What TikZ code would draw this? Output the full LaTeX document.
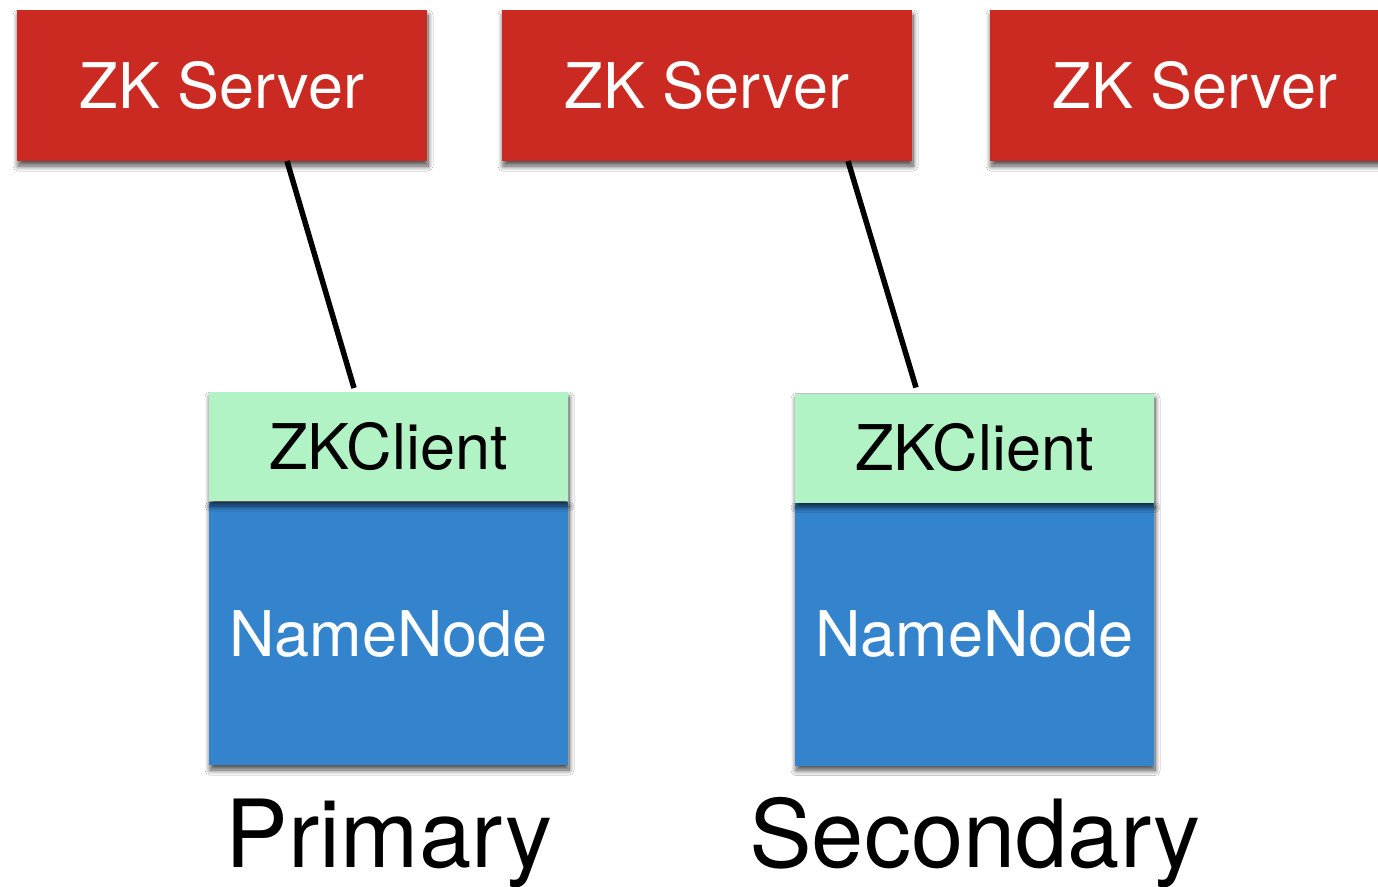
\documentclass[tikz,border=0pt]{standalone}
\usepackage{fontspec}
\setmainfont{TeX Gyre Heros}
\usetikzlibrary{shadows.blur}
\definecolor{zkred}{HTML}{CB2A23}
\definecolor{zkgreen}{HTML}{B1F3C5}
\definecolor{nnblue}{HTML}{3483CD}
\tikzset{
  sh/.style={blur shadow={shadow xshift=1pt,shadow yshift=-5pt,shadow opacity=70,shadow blur radius=5pt,shadow blur steps=12}},
  boxbase/.style={inner sep=0pt,outer sep=0pt,text height=45pt,text depth=0pt,font=\fontsize{63}{70}\selectfont},
  server/.style={boxbase,sh,fill=zkred,text=white,minimum width=410pt,minimum height=151pt},
  client/.style={boxbase,sh,fill=zkgreen,text=black,minimum width=359pt,minimum height=109pt},
  namenode/.style={boxbase,sh,fill=nnblue,text=white,minimum width=359pt,minimum height=263pt},
  role/.style={inner sep=0pt,anchor=base,font=\fontsize{94}{100}\selectfont},
  conn/.style={draw=black,line width=5.5pt}
}
\begin{document}
\begin{tikzpicture}[x=1pt,y=-1pt]
\useasboundingbox (0,0) rectangle (1378,886);
\fill[white] (0,0) rectangle (1378,886);
% servers
\node[server] (zk1) at (222,85.5) {ZK Server};
\node[server] (zk2) at (707,85.5) {ZK Server};
\node[server] (zk3) at (1195,85.5) {ZK Server};
% primary stack
\node[namenode] (nn1) at (388.5,633.5) {NameNode};
\node[client] (zc1) at (388.5,446.5) {ZKClient};
% secondary stack
\node[namenode] (nn2) at (974.5,634) {NameNode};
\node[client] (zc2) at (974.5,448) {ZKClient};
% labels
\node[role] (p) at (389,867) {Primary};
\node[role] (s) at (975,867) {Secondary};
% connectors
\draw[conn] ([xshift=65pt]zk1.south) -- ([xshift=-34.5pt,yshift=4pt]zc1.north);
\draw[conn] ([xshift=141pt]zk2.south) -- ([xshift=-58.5pt,yshift=6pt]zc2.north);
\end{tikzpicture}
\end{document}
